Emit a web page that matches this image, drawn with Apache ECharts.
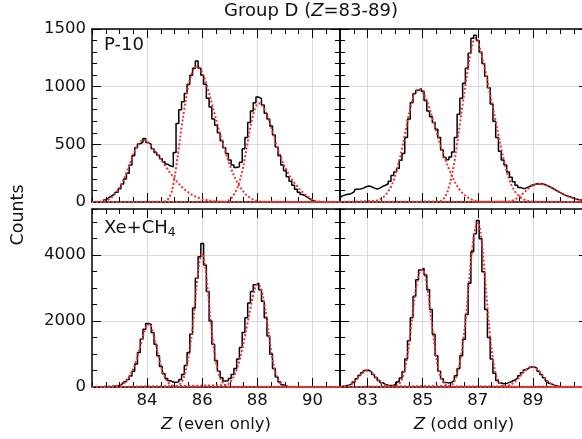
<!DOCTYPE html>
<html><head><meta charset="utf-8">
<script src="https://cdn.jsdelivr.net/npm/echarts@6/dist/echarts.min.js"></script>
<style>html,body{margin:0;padding:0;background:#fff}#c{width:582px;height:439px}</style>
</head><body><div id="c"></div><script>
const FONT = '"DejaVu Sans", "Noto Sans", sans-serif';
const binWidth = 0.1;
const xMin = 82, xMax = 91;
const evenTicks = [84, 86, 88, 90];
const oddTicks = [83, 85, 87, 89];
const topYTicks = [0, 500, 1000, 1500];
const botYTicks = [0, 2000, 4000];
const topYMax = 1500, botYMax = 5400;

// ---- P-10, even Z (top-left) ----
const p10EvenStart = 82.4;
const p10EvenCounts = [15,20,35,50,65,85,115,155,200,250,320,400,470,505,520,550,515,500,462,430,405,375,350,328,312,305,430,680,800,870,940,1020,1100,1160,1222,1160,1100,1020,900,824,720,665,600,530,470,420,365,320,300,305,345,462,560,690,790,860,910,896,840,770,720,660,580,477,400,320,270,220,180,145,110,85,65,50,35,20,10,5];
const p10Fit84Start = 82.4;
const p10Fit84 = [5,12,22,38,60,90,125,170,225,285,350,415,470,510,532,535,525,500,470,440,405,370,335,300,265,232,200,172,146,122,101,83,67,54,43,34,26,20,15,11,8,5,3,2,1];
const p10Fit86Start = 84.6;
const p10Fit86 = [3,12,40,95,220,380,560,730,880,1010,1100,1155,1175,1165,1120,1060,985,900,810,720,630,545,465,390,320,260,205,158,120,88,62,42,27,16,9,4,2];
const p10Fit88Start = 86.8;
const p10Fit88 = [2,8,20,45,85,140,215,320,450,590,710,800,850,855,830,785,725,650,570,490,420,360,305,260,215,180,150,120,95,72,52,35,20,10,4];

// ---- P-10, odd Z (top-right) ----
const p10OddStart = 82.0;
const p10OddCounts = [38,55,62,68,72,85,110,112,120,132,139,132,120,112,120,135,145,158,180,230,260,290,361,420,560,720,860,940,968,983,960,880,790,740,690,630,560,450,385,367,390,434,560,760,900,1030,1160,1290,1420,1445,1400,1300,1200,1090,990,850,700,560,440,365,320,260,215,175,145,125,118,120,130,145,150,158,155,158,150,140,128,115,100,88,75,62,52,45,38,28,22,18,14,10];
const p10Fit85Start = 83.3;
const p10Fit85 = [10,18,30,48,75,110,160,225,310,410,520,640,760,865,935,970,975,955,910,845,770,690,610,530,455,385,320,260,205,160,120,90,65,45,30,19,11,6,3];
const p10Fit87Start = 85.6;
const p10Fit87 = [5,15,40,90,170,280,420,590,760,930,1090,1240,1360,1420,1400,1310,1210,1110,990,880,760,640,520,410,310,225,160,110,75,50,32,20,12,6,3];
const p10Fit89Start = 88.1;
const p10Fit89 = [3,8,17,30,45,65,88,110,130,145,155,160,158,152,143,132,120,105,92,80,68,57,47,38,30,24,18,14,10];

// ---- Xe+CH4, even Z (bottom-left) ----
const xeEvenStart = 82.8;
const xeEvenCounts = [20,25,45,90,160,230,330,480,700,1050,1450,1750,1930,1900,1650,1300,950,620,400,260,190,150,140,160,230,380,650,1050,1600,2400,3300,3950,4350,3700,2900,2000,1300,800,480,280,180,190,260,380,560,850,1200,1650,2100,2550,2900,3100,3150,2950,2600,2100,1550,1000,560,300,150,70,30,15];
const xeFit84Start = 83.0;
const xeFit84 = [40,80,150,250,380,560,790,1080,1390,1670,1880,1900,1700,1360,990,650,390,210,100,45,18,7];
const xeFit86Start = 85.0;
const xeFit86 = [10,30,90,220,480,900,1450,2200,3100,3800,4050,3700,2950,2050,1300,750,400,190,80,30,10];
const xeFit88Start = 86.9;
const xeFit88 = [60,130,250,420,650,950,1330,1750,2180,2600,2950,3120,3050,2780,2300,1700,1100,640,330,150,60,22,8];

// ---- Xe+CH4, odd Z (bottom-right) ----
const xeOddStart = 82.0;
const xeOddCounts = [10,20,30,50,80,150,250,350,430,500,508,460,380,290,200,130,80,55,48,55,90,160,270,460,850,1400,2100,2750,3250,3550,3600,3400,2950,2350,1600,950,480,250,140,120,140,200,340,560,950,1450,2200,3150,4100,4650,5050,4500,3500,2350,1500,850,420,200,120,100,110,140,175,215,270,340,430,515,575,605,610,570,480,380,280,180,110,65,35,18,8];
const xeFit83Start = 82.2;
const xeFit83 = [10,30,70,140,240,350,440,495,505,470,390,290,195,120,65,32,14,6];
const xeFit85Start = 84.0;
const xeFit85 = [20,60,160,360,720,1250,1950,2650,3200,3500,3560,3350,2850,2150,1450,850,450,210,85,32,11];
const xeFit87Start = 86.0;
const xeFit87 = [40,110,260,540,980,1600,2400,3350,4200,4800,5000,4700,3950,2950,1950,1150,600,280,115,42,14];
const xeFit89Start = 88.0;
const xeFit89 = [20,40,75,125,195,285,390,490,565,605,610,570,490,390,285,195,125,75,40,20,10];

const panels = [
  {grid:{left:92, top:29, width:248, height:173}, xTicks:evenTicks, showX:false, yMax:topYMax, yStep:100, yTicks:topYTicks, showY:true,
   hist:[p10EvenStart,p10EvenCounts], fits:[[p10Fit84Start,p10Fit84],[p10Fit86Start,p10Fit86],[p10Fit88Start,p10Fit88]]},
  {grid:{left:340, top:29, width:248, height:173}, xTicks:oddTicks, showX:false, yMax:topYMax, yStep:100, yTicks:topYTicks, showY:false,
   hist:[p10OddStart,p10OddCounts], fits:[[p10Fit85Start,p10Fit85],[p10Fit87Start,p10Fit87],[p10Fit89Start,p10Fit89]]},
  {grid:{left:92, top:209, width:248, height:178}, xTicks:evenTicks, showX:true, xName:'{i|Z} (even only)', yMax:botYMax, yStep:500, yTicks:botYTicks, showY:true,
   hist:[xeEvenStart,xeEvenCounts], fits:[[xeFit84Start,xeFit84],[xeFit86Start,xeFit86],[xeFit88Start,xeFit88]]},
  {grid:{left:340, top:209, width:248, height:178}, xTicks:oddTicks, showX:true, xName:'{i|Z} (odd only)', yMax:botYMax, yStep:500, yTicks:botYTicks, showY:false,
   hist:[xeOddStart,xeOddCounts], fits:[[xeFit83Start,xeFit83],[xeFit85Start,xeFit85],[xeFit87Start,xeFit87],[xeFit89Start,xeFit89]]}
];

const toPts = (start, vals) => vals.map((v, i) => [+(start + i * binWidth).toFixed(2), v]);
const AX = {color:'#000', width:1.5};
const TK = {color:'#000', width:1};
const SPL = {color:'#dadada', width:1};
const LBL = 16.5;

const grid = [], xAxis = [], yAxis = [], series = [];
panels.forEach((p, g) => {
  grid.push(Object.assign({outerBoundsMode:'none', containLabel:false}, p.grid));
  ['bottom','top'].forEach(pos => {
    xAxis.push({gridIndex:g, type:'value', position:pos, min:xMin, max:xMax, interval:0.5,
      axisLine:{show:true, onZero:false, lineStyle:AX},
      axisTick:{show:true, inside:true, length:5, lineStyle:TK},
      axisLabel:{show:false}, splitLine:{show:false}});
    const showLab = pos === 'bottom' && p.showX;
    xAxis.push({gridIndex:g, type:'value', position:pos, min:xMin, max:xMax,
      axisLine:{show:false, onZero:false},
      axisTick:{show:true, inside:true, length:9, customValues:p.xTicks, lineStyle:TK},
      axisLabel:{show:showLab, customValues:p.xTicks, margin:5, fontSize:LBL, color:'#111', fontFamily:FONT, formatter:v => String(v)},
      splitLine:{show:pos === 'bottom', lineStyle:SPL},
      name: showLab ? p.xName : '', nameLocation:'middle', nameGap:29,
      nameTextStyle:{fontSize:LBL, color:'#111', fontFamily:FONT, rich:{i:{fontSize:LBL, fontStyle:'italic', color:'#111', fontFamily:FONT}}}});
  });
  ['left','right'].forEach(pos => {
    yAxis.push({gridIndex:g, type:'value', position:pos, min:0, max:p.yMax, interval:p.yStep,
      axisLine:{show:true, onZero:false, lineStyle:AX},
      axisTick:{show:true, inside:true, length:5, lineStyle:TK},
      axisLabel:{show:false}, splitLine:{show:false}});
    yAxis.push({gridIndex:g, type:'value', position:pos, min:0, max:p.yMax,
      axisLine:{show:false, onZero:false},
      axisTick:{show:true, inside:true, length:9, customValues:p.yTicks, lineStyle:TK},
      axisLabel:{show:pos === 'left' && p.showY, customValues:p.yTicks, margin:6, fontSize:LBL, color:'#111', fontFamily:FONT, formatter:v => String(v)},
      splitLine:{show:pos === 'left', lineStyle:SPL}});
  });
  const xi = 4 * g, yi = 4 * g;
  series.push({type:'line', xAxisIndex:xi, yAxisIndex:yi, data:toPts(p.hist[0], p.hist[1]),
    step:'middle', symbol:'none', lineStyle:{color:'#000', width:1.5}, z:3, silent:true});
  p.fits.forEach(f => {
    series.push({type:'line', xAxisIndex:xi, yAxisIndex:yi,
      data:[[xMin, 0]].concat(toPts(f[0], f[1]), [[xMax, 0]]),
      smooth:0.3, symbol:'none', lineStyle:{color:'#ee3333', width:2, type:[2, 2]}, z:4, silent:true});
  });
});

const chart = echarts.init(document.getElementById('c'), null, {renderer:'canvas'});
chart.setOption({
  animation:false,
  textStyle:{fontFamily:FONT},
  grid, xAxis, yAxis, series,
  graphic:[
    {type:'text', x:311, y:11, style:{text:'{a|Group D (}{i|Z}{a|=83-89)}', align:'center', verticalAlign:'middle',
      rich:{a:{fontSize:18, fontFamily:FONT, fill:'#111'}, i:{fontSize:18, fontFamily:FONT, fontStyle:'italic', fill:'#111'}}}},
    {type:'text', x:104, y:45, z:10, style:{text:'P-10', fontSize:18, fontFamily:FONT, fill:'#111', align:'left', verticalAlign:'middle'}},
    {type:'text', x:104, y:228, z:10, style:{text:'{n|Xe+CH}{s|4}', align:'left', verticalAlign:'middle',
      rich:{n:{fontSize:18, fontFamily:FONT, fill:'#111'}, s:{fontSize:12.5, fontFamily:FONT, fill:'#111', padding:[10,0,0,0]}}}},
    {type:'text', x:18, y:215, rotation:Math.PI/2, style:{text:'Counts', fontSize:17.5, fontFamily:FONT, fill:'#111', align:'center', verticalAlign:'middle'}}
  ]
});
</script></body></html>
